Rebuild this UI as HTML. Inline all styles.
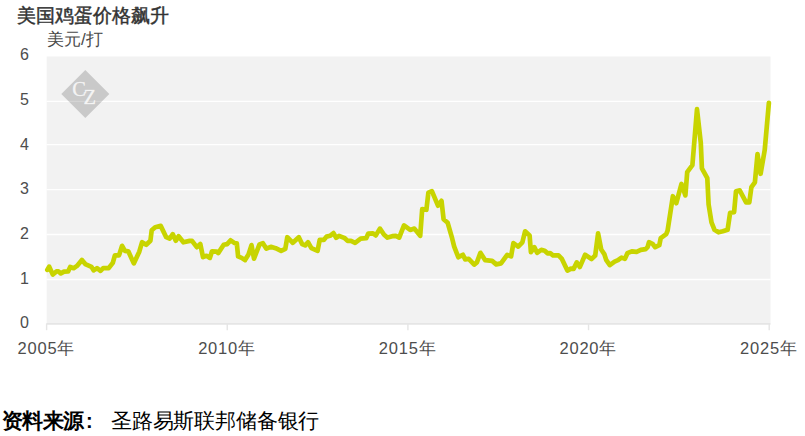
<!DOCTYPE html>
<html><head><meta charset="utf-8"><style>
html,body{margin:0;padding:0;background:#fff;width:805px;height:436px;overflow:hidden;position:relative;font-family:"Liberation Sans",sans-serif}
.t{position:absolute;white-space:nowrap}
#title{left:16.5px;top:4px;font-size:19px;font-weight:normal;-webkit-text-stroke:0.45px #333;color:#333;line-height:24px}
#unit{left:47px;top:29.3px;font-size:17px;color:#4a4a4a;line-height:22px}
.yl{position:absolute;left:0;width:29px;text-align:right;font-size:16px;color:#4d4d4d;line-height:20px}
.xl{position:absolute;top:337.3px;width:80px;text-align:center;font-size:16.5px;color:#4d4d4d;line-height:22px}
.xl i{font-style:normal;letter-spacing:0.8px}
#srcb{left:2px;top:406.5px;font-size:21px;letter-spacing:-0.6px;font-weight:bold;color:#000;line-height:28px}
#srcc{left:86px;top:407px;font-size:20px;font-weight:bold;color:#000;line-height:28px}
#srcr{left:111px;top:406.5px;font-size:21px;letter-spacing:-0.17px;color:#000;line-height:28px}
svg{position:absolute;left:0;top:0}
</style></head><body>
<svg width="805" height="436" viewBox="0 0 805 436">
<rect x="46.7" y="56.5" width="723.8" height="267" fill="#f2f2f2"/>
<g stroke="#ffffff" stroke-width="1.3"><line x1="46.5" x2="770.5" y1="279.5" y2="279.5" /><line x1="46.5" x2="770.5" y1="234.5" y2="234.5" /><line x1="46.5" x2="770.5" y1="189.6" y2="189.6" /><line x1="46.5" x2="770.5" y1="144.6" y2="144.6" /><line x1="46.5" x2="770.5" y1="101.4" y2="101.4" /></g>
<g transform="translate(85.3,93.9)"><path d="M0,-24 L24,0 L0,24 L-24,0 Z" fill="#000" fill-opacity="0.17"/>
<text x="-6.3" y="2.3" font-family="Liberation Serif" font-size="20.5" fill="#fff" fill-opacity="0.8" text-anchor="middle" stroke="#fff" stroke-opacity="0.5" stroke-width="0.4">C</text>
<text x="4.5" y="10.5" font-family="Liberation Serif" font-size="20.5" fill="#fff" fill-opacity="0.8" text-anchor="middle" stroke="#fff" stroke-opacity="0.5" stroke-width="0.4">Z</text></g>
<line x1="46.5" x2="770.5" y1="323.9" y2="323.9" stroke="#e5e5e5" stroke-width="1.6"/>
<g stroke="#e5e5e5" stroke-width="1.4"><line x1="46.60" x2="46.60" y1="323.5" y2="330.2" /><line x1="227.25" x2="227.25" y1="323.5" y2="330.2" /><line x1="407.90" x2="407.90" y1="323.5" y2="330.2" /><line x1="588.55" x2="588.55" y1="323.5" y2="330.2" /><line x1="769.20" x2="769.20" y1="323.5" y2="330.2" /></g>
<path d="M47.3,269.9 L49.2,266.6 L52.8,274.6 L56.4,271.4 L58.5,271.4 L60.8,273.4 L64.0,271.6 L68.1,271.4 L70.2,266.9 L73.6,268.2 L77.0,265.9 L81.9,259.9 L85.3,264.1 L91.5,266.9 L93.6,270.4 L97.0,268.2 L100.5,270.9 L103.2,268.2 L108.7,268.2 L112.8,262.8 L114.9,255.4 L119.0,255.4 L122.1,245.8 L124.9,250.9 L128.3,251.3 L133.8,263.4 L139.3,251.7 L142.1,242.2 L146.2,244.8 L150.4,240.7 L151.7,230.3 L155.2,227.2 L160.7,225.9 L166.2,237.2 L169.6,238.6 L172.8,234.2 L175.8,240.7 L178.6,236.3 L183.4,242.3 L189.6,240.9 L192.0,240.9 L196.8,247.2 L200.3,244.1 L203.0,257.1 L206.5,255.8 L209.9,257.9 L212.0,251.3 L216.8,251.7 L218.2,253.1 L223.7,244.8 L227.1,244.1 L230.6,240.3 L234.7,243.2 L236.8,243.3 L238.1,256.4 L241.6,257.9 L245.0,260.1 L248.5,254.4 L251.5,245.1 L254.0,258.6 L259.5,244.4 L262.9,243.2 L266.4,248.7 L270.8,246.8 L275.6,248.2 L281.1,250.9 L285.3,248.9 L287.3,237.2 L292.8,242.8 L298.8,237.2 L302.1,244.1 L305.2,245.4 L308.0,242.2 L311.4,248.2 L317.6,250.9 L319.7,239.9 L323.8,239.9 L326.6,236.6 L330.0,235.8 L333.5,233.1 L336.2,237.8 L339.0,235.8 L344.8,238.2 L347.6,240.9 L351.0,240.9 L355.1,242.8 L360.7,238.7 L366.2,238.2 L368.2,233.7 L373.0,233.3 L375.8,235.4 L379.9,228.6 L384.1,234.8 L387.5,237.6 L392.3,236.2 L395.8,235.8 L399.2,237.6 L404.0,225.4 L410.2,229.9 L414.4,228.6 L420.2,235.8 L422.2,209.1 L426.4,209.8 L428.4,192.6 L431.9,191.2 L438.0,205.7 L441.5,200.8 L443.6,219.3 L447.7,222.8 L452.1,238.2 L454.2,246.6 L458.3,257.2 L462.9,254.8 L465.2,259.4 L468.7,258.9 L474.2,264.6 L476.9,262.4 L480.4,252.8 L485.2,260.2 L492.1,260.9 L496.2,264.4 L501.0,263.4 L507.2,254.8 L511.1,256.4 L513.4,243.1 L518.2,246.6 L522.4,242.3 L525.1,231.3 L529.6,235.4 L530.9,252.1 L534.4,247.2 L537.1,252.8 L541.3,249.9 L544.7,250.7 L547.5,253.3 L550.2,253.2 L553.0,255.4 L558.5,255.4 L561.9,258.9 L567.4,270.6 L570.9,268.6 L573.6,268.9 L576.8,262.4 L579.8,267.1 L585.1,254.8 L591.5,259.0 L595.2,255.6 L598.1,233.4 L601.2,249.5 L604.3,254.1 L606.3,260.2 L609.8,265.1 L614.6,261.6 L618.0,260.2 L621.5,257.6 L624.9,258.9 L627.4,253.2 L631.8,251.3 L636.6,251.8 L640.8,249.9 L645.6,249.2 L647.6,247.2 L649.0,242.2 L652.5,243.8 L655.2,247.2 L659.3,245.2 L660.7,238.2 L666.2,234.2 L667.6,230.7 L672.9,196.2 L676.3,203.2 L681.5,183.9 L685.4,195.4 L687.2,172.2 L692.4,165.1 L697.0,109.2 L700.8,143.1 L701.9,168.3 L707.3,178.2 L708.6,204.3 L711.5,222.3 L714.5,229.8 L718.5,232.3 L722.8,231.3 L727.6,229.8 L730.1,212.8 L734.1,212.1 L736.0,191.2 L739.7,190.4 L746.1,202.4 L749.3,202.4 L751.4,187.2 L754.9,182.3 L757.5,154.2 L760.6,173.8 L764.7,150.2 L768.9,102.8" fill="none" stroke="#c8d400" stroke-width="4.7" stroke-linejoin="round" stroke-linecap="round"/>
</svg>
<div class="t" id="title">美国鸡蛋价格飙升</div>
<div class="t" id="unit">美元/打</div>
<div class="yl" style="top:312.8px">0</div><div class="yl" style="top:269.2px">1</div><div class="yl" style="top:224.4px">2</div><div class="yl" style="top:179.4px">3</div><div class="yl" style="top:134.6px">4</div><div class="yl" style="top:90.2px">5</div><div class="yl" style="top:45.3px">6</div>
<div class="xl" style="left:6.0px"><i>2005</i>年</div><div class="xl" style="left:186.6px"><i>2010</i>年</div><div class="xl" style="left:367.2px"><i>2015</i>年</div><div class="xl" style="left:547.9px"><i>2020</i>年</div><div class="xl" style="left:728.5px"><i>2025</i>年</div>
<div class="t" id="srcb">资料来源</div><div class="t" id="srcc">:</div><div class="t" id="srcr">圣路易斯联邦储备银行</div>
</body></html>
